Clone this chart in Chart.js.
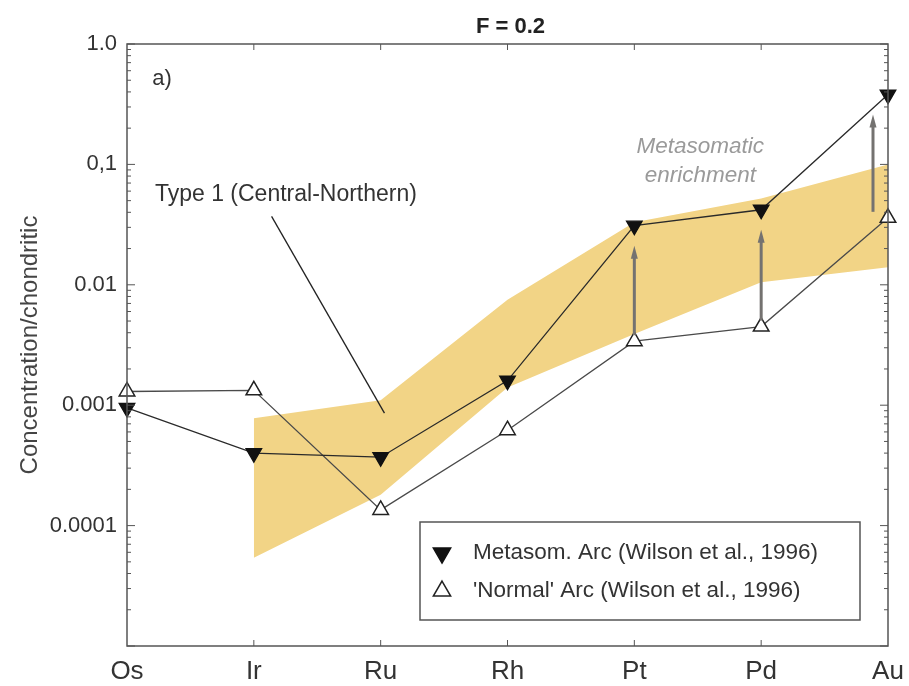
<!DOCTYPE html>
<html lang="en">
<head>
<meta charset="UTF-8">
<title>F = 0.2</title>
<script src="https://cdn.jsdelivr.net/npm/chart.js"></script>
<style>
  html, body { margin: 0; padding: 0; background: #fff; }
  #wrap { position: relative; width: 909px; height: 686px; }
</style>
</head>
<body>
<div id="wrap"><canvas id="chart"></canvas></div>
<script>
// element order along the x axis
const elements = ['Os', 'Ir', 'Ru', 'Rh', 'Pt', 'Pd', 'Au'];
// Wilson et al. (1996) arcs, normalised to chondrite
const metasomArc = [0.00095, 0.00040, 0.00037, 0.0016, 0.031, 0.042, 0.38];
const normalArc = [0.0013, 0.00133, 0.000135, 0.00062, 0.0034, 0.0045, 0.036];
// Type 1 (Central-Northern) field
const type1Upper = [null, 0.00078, 0.0011, 0.0075, 0.033, 0.052, 0.10];
const type1Lower = [null, 0.000054, 0.00018, 0.0014, 0.0039, 0.0105, 0.014];
// y axis labels
const yTickValues = [1, 0.1, 0.01, 0.001, 0.0001];
const yTickLabels = ['1.0', '0,1', '0.01', '0.001', '0.0001'];
// enrichment arrows (normal -> metasomatised)
const arrowElements = ['Pt', 'Pd', 'Au'];
// pointer of the "Type 1" label, in data units (x index, y value)
const pointerX = [1.14, 2.03];
const pointerY = [0.037, 0.00086];

const FONT = "'Liberation Sans', Arial, sans-serif";
const BAND = 'rgb(242, 212, 134)';

function tri(ctx, x, y, r, down, fill, stroke) {
    const s = down ? -1 : 1;
    ctx.beginPath();
    ctx.moveTo(x, y - s * r);
    ctx.lineTo(x + r * 0.866, y + s * r * 0.5);
    ctx.lineTo(x - r * 0.866, y + s * r * 0.5);
    ctx.closePath();
    ctx.fillStyle = fill;
    ctx.fill();
    ctx.lineWidth = 1.5;
    ctx.strokeStyle = stroke;
    ctx.stroke();
}

const decor = {
    id: 'decor',
    beforeDraw(chart) {
        const ctx = chart.ctx;
        ctx.save();
        ctx.fillStyle = '#fff';
        ctx.fillRect(0, 0, chart.width, chart.height);
        ctx.restore();
    },
    afterDatasetsDraw(chart) {
        const ctx = chart.ctx;
        const { left, right, top, bottom } = chart.chartArea;
        const xs = chart.scales.x, ys = chart.scales.y;
        ctx.save();

        // arrows
        ctx.strokeStyle = '#747270';
        ctx.fillStyle = '#747270';
        arrowElements.forEach(el => {
            const i = elements.indexOf(el);
            let x = xs.getPixelForValue(i);
            if (i === elements.length - 1) x -= 15;
            const y0 = ys.getPixelForValue(normalArc[i]) - 6;
            const y1 = ys.getPixelForValue(metasomArc[i]) + 20;
            ctx.lineWidth = 3;
            ctx.beginPath();
            ctx.moveTo(x, y0);
            ctx.lineTo(x, y1 + 10);
            ctx.stroke();
            ctx.beginPath();
            ctx.moveTo(x, y1);
            ctx.lineTo(x + 3.5, y1 + 13);
            ctx.lineTo(x - 3.5, y1 + 13);
            ctx.closePath();
            ctx.fill();
        });

        // pointer line for the Type 1 label
        ctx.strokeStyle = '#222';
        ctx.lineWidth = 1.3;
        ctx.beginPath();
        ctx.moveTo(xs.getPixelForValue(pointerX[0]), ys.getPixelForValue(pointerY[0]));
        ctx.lineTo(xs.getPixelForValue(pointerX[1]), ys.getPixelForValue(pointerY[1]));
        ctx.stroke();

        // frame
        ctx.strokeStyle = '#555';
        ctx.lineWidth = 1.5;
        ctx.strokeRect(left, top, right - left, bottom - top);

        // inward ticks
        ctx.lineWidth = 1;
        ctx.beginPath();
        ys.ticks.forEach(t => {
            const y = ys.getPixelForValue(t.value);
            const major = Math.abs(Math.log10(t.value) - Math.round(Math.log10(t.value))) < 1e-6;
            const len = major ? 8 : 4;
            ctx.moveTo(left, y); ctx.lineTo(left + len, y);
            ctx.moveTo(right, y); ctx.lineTo(right - len, y);
        });
        for (let i = 1; i < elements.length - 1; i++) {
            const x = xs.getPixelForValue(i);
            ctx.moveTo(x, bottom); ctx.lineTo(x, bottom - 6);
            ctx.moveTo(x, top); ctx.lineTo(x, top + 6);
        }
        ctx.stroke();

        // title
        ctx.fillStyle = '#222';
        ctx.font = 'bold 22px ' + FONT;
        ctx.textAlign = 'center';
        ctx.textBaseline = 'middle';
        ctx.fillText('F = 0.2', (left + right) / 2 + 3, 27);

        // panel letter and labels
        ctx.textAlign = 'left';
        ctx.font = '22px ' + FONT;
        ctx.fillStyle = '#333';
        ctx.fillText('a)', xs.getPixelForValue(0.2), ys.getPixelForValue(0.51));
        ctx.font = '23px ' + FONT;
        ctx.fillText('Type 1 (Central-Northern)', xs.getPixelForValue(0.22), ys.getPixelForValue(0.056));

        ctx.textAlign = 'center';
        ctx.fillStyle = '#9a9a9a';
        ctx.font = 'italic 22.5px ' + FONT;
        ctx.fillText('Metasomatic', xs.getPixelForValue(4.52), ys.getPixelForValue(0.14));
        ctx.fillText('enrichment', xs.getPixelForValue(4.52), ys.getPixelForValue(0.08));

        // legend
        const bx = right - 468, by = top + 478, bw = 440, bh = 98;
        ctx.fillStyle = '#fff';
        ctx.fillRect(bx, by, bw, bh);
        ctx.strokeStyle = '#555';
        ctx.lineWidth = 1.5;
        ctx.strokeRect(bx, by, bw, bh);
        tri(ctx, bx + 22, by + 31, 10, true, '#111', '#111');
        tri(ctx, bx + 22, by + 69, 10, false, '#fff', '#222');
        ctx.textAlign = 'left';
        ctx.fillStyle = '#333';
        ctx.font = '22.5px ' + FONT;
        ctx.fillText(chart.data.datasets[0].label, bx + 53, by + 31);
        ctx.fillText(chart.data.datasets[1].label, bx + 53, by + 69);

        ctx.restore();
    }
};

new Chart(document.getElementById('chart'), {
    type: 'line',
    data: {
        labels: elements,
        datasets: [
            {
                label: 'Metasom. Arc (Wilson et al., 1996)',
                data: metasomArc,
                borderColor: '#2a2a2a',
                borderWidth: 1.3,
                pointStyle: 'triangle',
                rotation: 180,
                pointRadius: 9,
                pointBackgroundColor: '#111',
                pointBorderColor: '#111',
                fill: false
            },
            {
                label: "'Normal' Arc (Wilson et al., 1996)",
                data: normalArc,
                borderColor: '#4a4a4a',
                borderWidth: 1.3,
                pointStyle: 'triangle',
                pointRadius: 9,
                pointBackgroundColor: '#fff',
                pointBorderColor: '#222',
                pointBorderWidth: 1.5,
                fill: false
            },
            {
                label: 'Type 1 upper',
                data: type1Upper,
                borderWidth: 0,
                pointRadius: 0,
                backgroundColor: BAND,
                fill: '+1'
            },
            {
                label: 'Type 1 lower',
                data: type1Lower,
                borderWidth: 0,
                pointRadius: 0,
                fill: false
            }
        ]
    },
    options: {
        responsive: true,
        maintainAspectRatio: false,
        animation: false,
        layout: { padding: { left: 0, right: 21, top: 44, bottom: 0 } },
        plugins: {
            legend: { display: false },
            tooltip: { enabled: false }
        },
        scales: {
            x: {
                type: 'category',
                offset: false,
                grid: { display: false, drawTicks: false },
                border: { display: false },
                ticks: {
                    color: '#333',
                    padding: 10,
                    font: { family: FONT, size: 26 },
                    maxRotation: 0,
                    autoSkip: false
                },
                afterFit(scale) {
                    scale.height = 40;
                    scale.paddingLeft = 0;
                    scale.paddingRight = 0;
                }
            },
            y: {
                type: 'logarithmic',
                min: 0.00001,
                max: 1,
                grid: { display: false, drawTicks: false },
                border: { display: false },
                afterBuildTicks(scale) {
                    const t = [];
                    for (let e = -5; e < 0; e++) {
                        for (let m = 1; m < 10; m++) t.push({ value: m * Math.pow(10, e) });
                    }
                    t.push({ value: 1 });
                    scale.ticks = t;
                },
                ticks: {
                    color: '#333',
                    padding: 10,
                    autoSkip: false,
                    font: { family: FONT, size: 22 },
                    callback(value) {
                        const k = yTickValues.findIndex(v => Math.abs(v - value) / v < 1e-6);
                        return k >= 0 ? yTickLabels[k] : '';
                    }
                },
                title: {
                    display: true,
                    text: 'Concentration/chondritic',
                    color: '#444',
                    font: { family: FONT, size: 24 },
                    padding: { top: 16, bottom: 0 }
                },
                afterFit(scale) {
                    scale.width = 127;
                    scale.paddingTop = 0;
                    scale.paddingBottom = 0;
                }
            }
        }
    },
    plugins: [decor]
});
</script>
</body>
</html>
